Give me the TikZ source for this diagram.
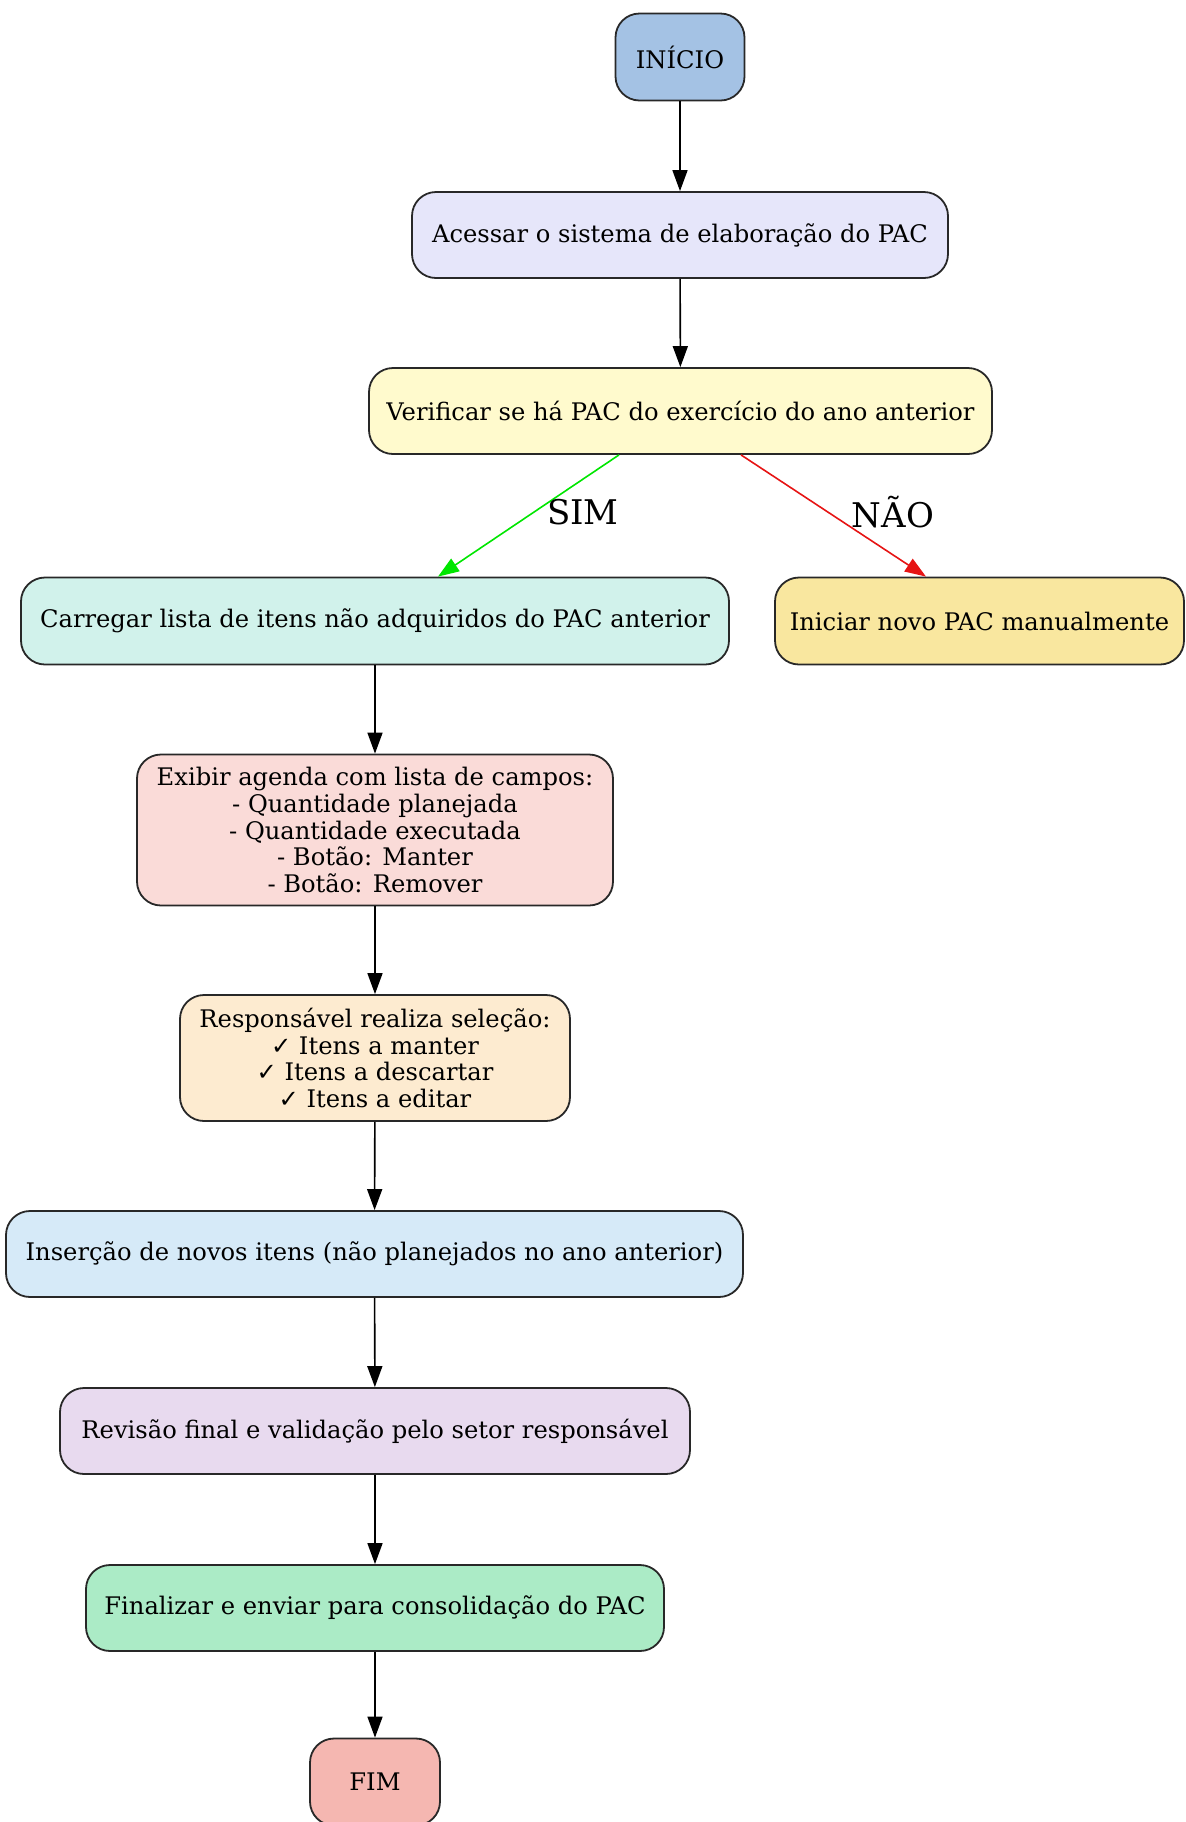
\documentclass[tikz,border=0pt]{standalone}
\usepackage{fontspec}
\setmainfont{DejaVu Serif}
\newfontfamily\checkfont{DejaVu Sans}
\usetikzlibrary{arrows.meta}
\definecolor{cInicio}{RGB}{164,194,228}
\definecolor{cAcessar}{RGB}{230,230,250}
\definecolor{cVerif}{RGB}{255,250,205}
\definecolor{cCarreg}{RGB}{209,242,235}
\definecolor{cIniciar}{RGB}{249,231,159}
\definecolor{cExibir}{RGB}{250,219,216}
\definecolor{cResp}{RGB}{253,235,208}
\definecolor{cInser}{RGB}{214,234,248}
\definecolor{cRevis}{RGB}{232,218,239}
\definecolor{cFinal}{RGB}{171,235,198}
\definecolor{cFim}{RGB}{245,183,177}
\definecolor{cBorder}{RGB}{40,40,40}
\definecolor{cGreen}{RGB}{0,230,0}
\definecolor{cRed}{RGB}{230,20,20}
\tikzset{
  box/.style={draw=cBorder, line width=0.9pt, rounded corners=12pt, align=center,
    inner sep=2pt, font=\fontsize{12.1}{13.3}\selectfont},
  flow/.style={draw=black, line width=0.8pt, -{Triangle[length=10.5pt,width=7.5pt]}},
  simflow/.style={flow, draw=cGreen, -{Triangle[length=10.5pt,width=7.5pt,fill=cGreen]}},
  naoflow/.style={flow, draw=cRed, -{Triangle[length=10.5pt,width=7.5pt,fill=cRed]}},
  elabel/.style={font=\fontsize{17}{19}\selectfont},
}
\begin{document}
\begin{tikzpicture}[x=0.5pt,y=-0.5pt]
\useasboundingbox (0,0) rectangle (1186,1822);
\node[box, fill=cInicio, minimum width=64.5pt, minimum height=43.5pt] (ini) at (680,57) {INÍCIO};
\node[box, fill=cAcessar, minimum width=268pt, minimum height=43pt] (ace) at (680,235) {Acessar o sistema de elaboração do PAC};
\node[box, fill=cVerif, minimum width=311.5pt, minimum height=43pt] (ver) at (680.5,411) {Verificar se há PAC do exercício do ano anterior};
\node[box, fill=cCarreg, minimum width=354pt, minimum height=43.5pt] (car) at (375,621) {Carregar lista de itens não adquiridos do PAC anterior};
\node[box, fill=cIniciar, minimum width=204.5pt, minimum height=43.5pt] (inic) at (979.5,621) {Iniciar novo PAC manualmente};
\node[box, fill=cExibir, minimum width=238pt, minimum height=75.5pt] (exi) at (375,830) {Exibir agenda com lista de campos:\\- Quantidade planejada\\- Quantidade executada\\- Botão: Manter\\- Botão: Remover};
\node[box, fill=cResp, minimum width=195pt, minimum height=63pt] (res) at (375,1058) {Responsável realiza seleção:\\{\checkfont ✓} Itens a manter\\{\checkfont ✓} Itens a descartar\\{\checkfont ✓} Itens a editar};
\node[box, fill=cInser, minimum width=368.5pt, minimum height=43pt] (ins) at (374.5,1254) {Inserção de novos itens (não planejados no ano anterior)};
\node[box, fill=cRevis, minimum width=315pt, minimum height=43pt] (rev) at (375,1431) {Revisão final e validação pelo setor responsável};
\node[box, fill=cFinal, minimum width=289pt, minimum height=43pt] (fin) at (375,1608) {Finalizar e enviar para consolidação do PAC};
\node[box, fill=cFim, minimum width=65pt, minimum height=43.5pt] (fim) at (375,1782) {FIM};

\draw[flow] (ini) -- (ace);
\draw[flow] (ace) -- (ver);
\draw[simflow] ([xshift=-30.75pt]ver.south) -- ([xshift=31.5pt]car.north);
\draw[naoflow] ([xshift=30.25pt]ver.south) -- ([xshift=-26.75pt]inic.north);
\node[elabel] (lsim) at (583,512) {SIM};
\node[elabel] (lnao) at (893,512) {NÃO};
\draw[flow] (car) -- (exi);
\draw[flow] (exi) -- (res);
\draw[flow] (res) -- (ins);
\draw[flow] (ins) -- (rev);
\draw[flow] (rev) -- (fin);
\draw[flow] (fin) -- (fim);
\end{tikzpicture}
\end{document}
